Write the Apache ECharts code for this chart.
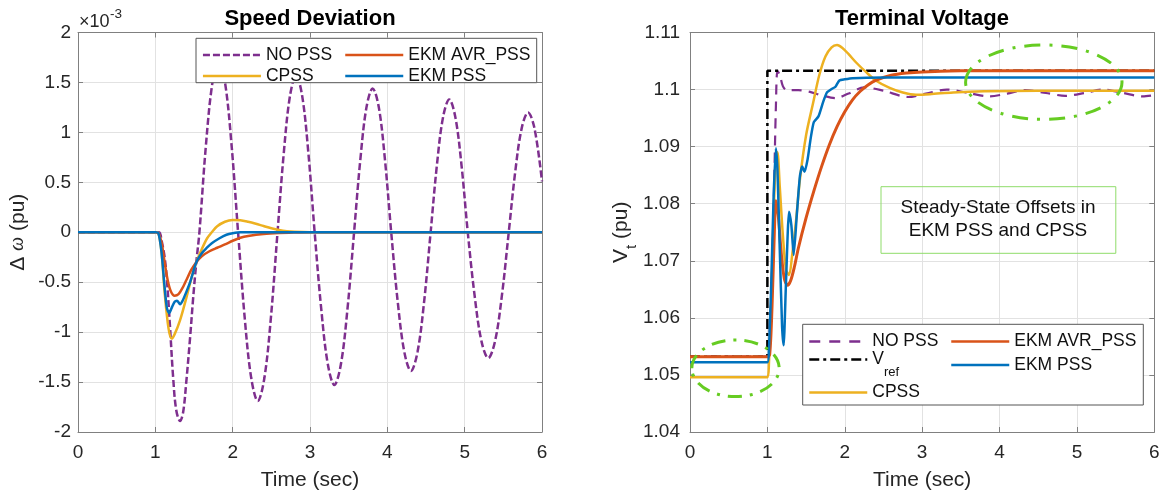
<!DOCTYPE html>
<html>
<head>
<meta charset="utf-8">
<script src="https://cdn.jsdelivr.net/npm/echarts@6/dist/echarts.min.js"></script>
<style>
  html, body { margin: 0; padding: 0; background: #fff; }
  #chart { width: 1164px; height: 494px; }
</style>
</head>
<body>
<div id="chart"></div>
<script>
// ---- Speed deviation (values in units of 1e-3 pu), [time s, value] ----
const speedNoPss = [[0,0],[1.0,0],[1.05,0],[1.08,-0.08],[1.12,-0.25],[1.15,-0.48],[1.19,-0.95],[1.23,-1.45],[1.27,-1.78],[1.32,-1.89],[1.36,-1.8],[1.4,-1.5],[1.45,-1.05],[1.49,-0.65],[1.53,-0.3],[1.57,0],
  [1.653,0.86],[1.737,1.49],[1.82,1.72],[1.903,1.49],[1.987,0.86],[2.07,0],
  [2.155,-0.85],[2.24,-1.46],[2.325,-1.69],[2.41,-1.46],[2.495,-0.85],[2.58,0],
  [2.66,0.785],[2.74,1.36],[2.82,1.57],[2.9,1.36],[2.98,0.785],[3.06,0],
  [3.145,-0.765],[3.23,-1.32],[3.315,-1.53],[3.4,-1.32],[3.485,-0.765],[3.57,0],
  [3.65,0.72],[3.73,1.25],[3.81,1.44],[3.89,1.25],[3.97,0.72],[4.05,0],
  [4.135,-0.7],[4.22,-1.2],[4.305,-1.39],[4.39,-1.2],[4.475,-0.7],[4.56,0],
  [4.64,0.665],[4.72,1.15],[4.8,1.33],[4.88,1.15],[4.96,0.665],[5.04,0],
  [5.128,-0.63],[5.217,-1.09],[5.305,-1.26],[5.393,-1.09],[5.482,-0.63],[5.57,0],
  [5.653,0.6],[5.737,1.04],[5.82,1.2],[5.903,1.04],[6.0,0.51]];
const speedCpss = [[0,0],[1.0,0],[1.04,-0.01],[1.08,-0.2],[1.12,-0.6],[1.17,-0.96],[1.21,-1.065],[1.25,-1.02],[1.32,-0.88],[1.4,-0.66],[1.47,-0.45],[1.53,-0.3],[1.6,-0.17],[1.67,-0.06],[1.73,0.0],[1.8,0.06],[1.9,0.105],[2.0,0.122],[2.1,0.12],[2.2,0.105],[2.3,0.085],[2.4,0.062],[2.5,0.04],[2.6,0.022],[2.7,0.01],[2.8,0.004],[3.0,0],[6,0]];
const speedAvrPss = [[0,0],[1.0,0],[1.04,-0.01],[1.08,-0.1],[1.12,-0.3],[1.16,-0.48],[1.2,-0.59],[1.25,-0.635],[1.3,-0.62],[1.35,-0.56],[1.4,-0.48],[1.47,-0.37],[1.53,-0.3],[1.6,-0.24],[1.7,-0.19],[1.8,-0.155],[1.9,-0.122],[2.0,-0.085],[2.1,-0.055],[2.2,-0.038],[2.4,-0.018],[2.6,-0.008],[2.8,-0.003],[3.0,0],[6,0]];
const speedEkmPss = [[0,0],[1.0,0],[1.04,-0.01],[1.08,-0.2],[1.12,-0.55],[1.15,-0.76],[1.18,-0.81],[1.21,-0.76],[1.25,-0.695],[1.28,-0.685],[1.32,-0.72],[1.35,-0.69],[1.4,-0.6],[1.45,-0.5],[1.53,-0.3],[1.6,-0.21],[1.66,-0.16],[1.73,-0.11],[1.83,-0.06],[1.92,-0.025],[2.0,-0.01],[2.1,0],[6,0]];

// ---- Terminal voltage (pu), [time s, value] ----
const voltNoPss = [[0,1.0532],[1.0,1.0532],[1.03,1.058],[1.06,1.068],[1.09,1.085],[1.11,1.097],[1.13,1.1033],[1.16,1.1026],[1.2,1.1006],[1.25,1.0999],[1.4,1.0999],[1.55,1.0996],[1.7,1.099],[1.88,1.0985],[2.05,1.0993],[2.25,1.1004],[2.5,1.0998],[2.82,1.0987],[3.05,1.0993],[3.32,1.1],[3.6,1.0994],[3.87,1.0988],[4.1,1.0993],[4.33,1.0999],[4.6,1.0994],[4.85,1.0989],[5.1,1.0994],[5.33,1.1],[5.6,1.0994],[5.85,1.0988],[6,1.099]];
const voltRef = [[0,1.0532],[1,1.0532],[1,1.1033],[6,1.1033]];
const voltCpss = [[0,1.0496],[1.0,1.0496],[1.02,1.052],[1.05,1.063],[1.08,1.078],[1.11,1.0875],[1.13,1.089],[1.16,1.083],[1.2,1.0745],[1.24,1.0685],[1.28,1.0675],[1.32,1.071],[1.37,1.077],[1.42,1.0842],[1.5,1.092],[1.59,1.0976],[1.67,1.1025],[1.75,1.1058],[1.83,1.1074],[1.9,1.1078],[1.97,1.1073],[2.05,1.1062],[2.15,1.1047],[2.28,1.103],[2.4,1.1016],[2.58,1.1003],[2.75,1.0995],[2.92,1.0991],[3.1,1.0992],[3.4,1.0995],[3.8,1.0997],[4.5,1.0998],[6,1.0998]];
const voltAvrPss = [[0,1.0532],[1.0,1.0532],[1.03,1.0536],[1.06,1.062],[1.09,1.075],[1.11,1.0805],[1.14,1.078],[1.18,1.0712],[1.22,1.0668],[1.26,1.0657],[1.3,1.0665],[1.35,1.069],[1.4,1.0722],[1.5,1.0775],[1.6,1.0822],[1.7,1.0865],[1.8,1.0903],[1.9,1.0935],[2.0,1.0961],[2.1,1.0982],[2.2,1.0997],[2.3,1.1008],[2.4,1.1016],[2.6,1.1025],[2.8,1.1029],[3.0,1.1031],[3.5,1.1033],[6,1.1033]];
const voltEkmPss = [[0,1.0522],[1.0,1.0522],[1.02,1.0545],[1.05,1.066],[1.08,1.081],[1.11,1.0897],[1.13,1.086],[1.16,1.072],[1.19,1.0585],[1.21,1.0552],[1.24,1.066],[1.28,1.0786],[1.31,1.0762],[1.34,1.071],[1.38,1.078],[1.42,1.0848],[1.45,1.0865],[1.48,1.0856],[1.52,1.0878],[1.56,1.0915],[1.6,1.0943],[1.66,1.0953],[1.72,1.0978],[1.77,1.0995],[1.83,1.1001],[1.88,1.1005],[1.93,1.1016],[2.0,1.1018],[2.1,1.102],[2.5,1.1021],[6,1.1021]];

// ---- Axis ranges / labels ----
const timeRange = [0, 6, 1];
const speedRange = [-2, 2, 0.5];
const voltRange = [1.04, 1.11, 0.01];
const titles = ['Speed Deviation', 'Terminal Voltage'];
const annotationText = ['Steady-State Offsets in', 'EKM PSS and CPSS'];

const FONT = '"Liberation Sans", Arial, Helvetica, sans-serif';
const C = { purple: '#7E2F8E', yellow: '#EDB120', orange: '#D95319', blue: '#0072BD', black: '#000000' };
const AXIS_COLOR = '#808080';
const TEXT_COLOR = '#262626';

const chart = echarts.init(document.getElementById('chart'), null, { renderer: 'canvas' });

function mainX(grid) {
  return {
    gridIndex: grid, type: 'value', position: 'bottom',
    min: timeRange[0], max: timeRange[1], interval: timeRange[2],
    axisLine: { show: true, onZero: false, lineStyle: { color: AXIS_COLOR, width: 1 } },
    axisTick: { show: true, inside: true, length: 5, lineStyle: { color: AXIS_COLOR } },
    axisLabel: { show: true, margin: 11, fontSize: 19, color: TEXT_COLOR, fontFamily: FONT },
    splitLine: { show: true, lineStyle: { color: '#e2e2e2', width: 1 } },
    name: 'Time (sec)', nameLocation: 'middle', nameGap: 38,
    nameTextStyle: { fontSize: 21, color: TEXT_COLOR, fontFamily: FONT }
  };
}
function boxX(grid) {
  return {
    gridIndex: grid, type: 'value', position: 'top',
    min: timeRange[0], max: timeRange[1], interval: timeRange[2],
    axisLine: { show: true, onZero: false, lineStyle: { color: AXIS_COLOR, width: 1 } },
    axisTick: { show: true, inside: true, length: 5, lineStyle: { color: AXIS_COLOR } },
    axisLabel: { show: false }, splitLine: { show: false }
  };
}
function boxY(grid, range) {
  return {
    gridIndex: grid, type: 'value', position: 'right',
    min: range[0], max: range[1], interval: range[2],
    axisLine: { show: true, onZero: false, lineStyle: { color: AXIS_COLOR, width: 1 } },
    axisTick: { show: true, inside: true, length: 5, lineStyle: { color: AXIS_COLOR } },
    axisLabel: { show: false }, splitLine: { show: false }
  };
}
function mainY(grid, range, margin, name, gap, rich) {
  return {
    gridIndex: grid, type: 'value', position: 'left',
    min: range[0], max: range[1], interval: range[2],
    axisLine: { show: true, onZero: false, lineStyle: { color: AXIS_COLOR, width: 1 } },
    axisTick: { show: true, inside: true, length: 5, lineStyle: { color: AXIS_COLOR } },
    axisLabel: { show: true, margin: margin, fontSize: 19, color: TEXT_COLOR, fontFamily: FONT },
    splitLine: { show: true, lineStyle: { color: '#e2e2e2', width: 1 } },
    name: name, nameLocation: 'middle', nameGap: gap,
    nameTextStyle: { fontSize: 21, color: TEXT_COLOR, fontFamily: FONT, rich: rich }
  };
}

function line(name, xi, yi, data, color, width, dash, smooth) {
  return {
    type: 'line', name: name, xAxisIndex: xi, yAxisIndex: yi, data: data,
    symbol: 'none', showSymbol: false, smooth: smooth, clip: true,
    lineStyle: { color: color, width: width, type: dash || 'solid' },
    itemStyle: { color: color }, emphasis: { disabled: true }, z: 2
  };
}

// one legend entry per component so each row/column sits exactly where wanted
function legendItem(name, left, top, dash, extra) {
  const item = { name: name };
  if (dash) item.lineStyle = { type: dash };
  return Object.assign({
    data: [item], left: left, top: top, orient: 'vertical', padding: 0,
    itemWidth: 58, itemHeight: 20, itemGap: 0, selectedMode: false, z: 6,
    itemStyle: { opacity: 0 }, lineStyle: { width: 2.5 },
    textStyle: { fontSize: 17.5, lineHeight: 20, color: '#111', fontFamily: FONT }
  }, extra || {});
}

const refLegendText = {
  formatter: () => '{v|V}{r|ref}',
  textStyle: {
    fontSize: 17.5, color: '#111', fontFamily: FONT,
    rich: {
      v: { fontSize: 17.5, lineHeight: 18, verticalAlign: 'top', fontFamily: FONT, color: '#111' },
      r: { fontSize: 13, lineHeight: 13, padding: [15, 0, 0, 0], verticalAlign: 'top', fontFamily: FONT, color: '#111' }
    }
  }
};

const option = {
  backgroundColor: '#ffffff',
  animation: false,
  title: [
    { text: titles[0], left: 310, top: 8, textAlign: 'center', padding: 0,
      textStyle: { fontSize: 22, fontWeight: 'bold', color: '#000', fontFamily: FONT } },
    { text: titles[1], left: 922, top: 8, textAlign: 'center', padding: 0,
      textStyle: { fontSize: 22, fontWeight: 'bold', color: '#000', fontFamily: FONT } }
  ],
  grid: [
    { left: 78, top: 32.5, width: 464, height: 399.5, containLabel: false, outerBoundsMode: 'none' },
    { left: 690, top: 32.5, width: 464.3, height: 399.5, containLabel: false, outerBoundsMode: 'none' }
  ],
  xAxis: [mainX(0), boxX(0), mainX(1), boxX(1)],
  yAxis: [
    mainY(0, speedRange, 7, '{a|Δ }{w|ω}{a| (pu)}', 49.5, {
      a: { fontSize: 21, fontFamily: FONT, color: TEXT_COLOR },
      w: { fontSize: 20, fontFamily: '"Liberation Serif", "DejaVu Serif", serif', fontStyle: 'italic', color: TEXT_COLOR }
    }),
    boxY(0, speedRange),
    mainY(1, voltRange, 10, '{a|V}{s|t}{a| (pu)}', 57, {
      a: { fontSize: 21, lineHeight: 21, verticalAlign: 'top', fontFamily: FONT, color: TEXT_COLOR },
      s: { fontSize: 15, lineHeight: 15, padding: [13, 0, 0, 0], verticalAlign: 'top', fontFamily: FONT, color: TEXT_COLOR }
    }),
    boxY(1, voltRange)
  ],
  legend: [
    legendItem('NO PSS', 201.7, 45, [7, 3]),
    legendItem('CPSS', 201.7, 66),
    legendItem('EKM AVR_PSS', 344, 45),
    legendItem('EKM PSS', 344, 66),
    legendItem('NO PSS', 808, 331.5, [11, 9]),
    legendItem('Vref', 808, 350.5, [10, 4, 3, 4], refLegendText),
    legendItem('CPSS', 808, 382.5),
    legendItem('EKM AVR_PSS', 950, 331.5),
    legendItem('EKM PSS', 950, 355)
  ],
  series: [
    line('NO PSS', 0, 0, speedNoPss, C.purple, 2.5, [7, 3], 0.35),
    line('CPSS', 0, 0, speedCpss, C.yellow, 2.5, null, 0.3),
    line('EKM AVR_PSS', 0, 0, speedAvrPss, C.orange, 2.5, null, 0.3),
    line('EKM PSS', 0, 0, speedEkmPss, C.blue, 2.5, null, 0.25),
    line('NO PSS', 2, 2, voltNoPss, C.purple, 2.2, [10, 7], 0.3),
    line('Vref', 2, 2, voltRef, C.black, 2.5, [10, 4, 3, 4], false),
    line('CPSS', 2, 2, voltCpss, C.yellow, 2.5, null, 0.3),
    line('EKM AVR_PSS', 2, 2, voltAvrPss, C.orange, 3, null, 0.3),
    line('EKM PSS', 2, 2, voltEkmPss, C.blue, 2.5, null, 0.2)
  ],
  graphic: [
    // legend frames (white, covering the curves underneath)
    { type: 'rect', z: 4, shape: { x: 196, y: 38.3, width: 340.7, height: 44.4 },
      style: { fill: '#fff', stroke: '#555', lineWidth: 1 } },
    { type: 'rect', z: 4, shape: { x: 802.7, y: 324.3, width: 340.6, height: 80.7 },
      style: { fill: '#fff', stroke: '#555', lineWidth: 1 } },
    // axis exponent
    { type: 'text', z: 5, style: { text: '×10', x: 79, y: 21.7, verticalAlign: 'middle', align: 'left',
      fontSize: 18, fontFamily: FONT, fill: TEXT_COLOR } },
    { type: 'text', z: 5, style: { text: '-3', x: 110, y: 14.5, verticalAlign: 'middle', align: 'left',
      fontSize: 13.5, fontFamily: FONT, fill: TEXT_COLOR } },
    // annotation text box
    { type: 'rect', z: 8, shape: { x: 881, y: 186.7, width: 234.8, height: 66.6 },
      style: { fill: 'none', stroke: '#8fdc6a', lineWidth: 1 } },
    { type: 'text', z: 8, style: { text: annotationText.join('\n'), x: 998, y: 219, align: 'center',
      verticalAlign: 'middle', fontSize: 19, lineHeight: 23.3, fontFamily: FONT, fill: '#111' } },
    // highlight ellipses
    { type: 'ellipse', z: 9, shape: { cx: 735.5, cy: 368.3, rx: 43.7, ry: 28.3 },
      style: { fill: 'none', stroke: '#66cc22', lineWidth: 3, lineDash: [14, 8, 3, 8] } },
    { type: 'ellipse', z: 9, shape: { cx: 1043.8, cy: 82.2, rx: 78.2, ry: 37.2 },
      style: { fill: 'none', stroke: '#66cc22', lineWidth: 3, lineDash: [16, 9, 3, 9] } }
  ]
};

chart.setOption(option);
</script>
</body>
</html>
